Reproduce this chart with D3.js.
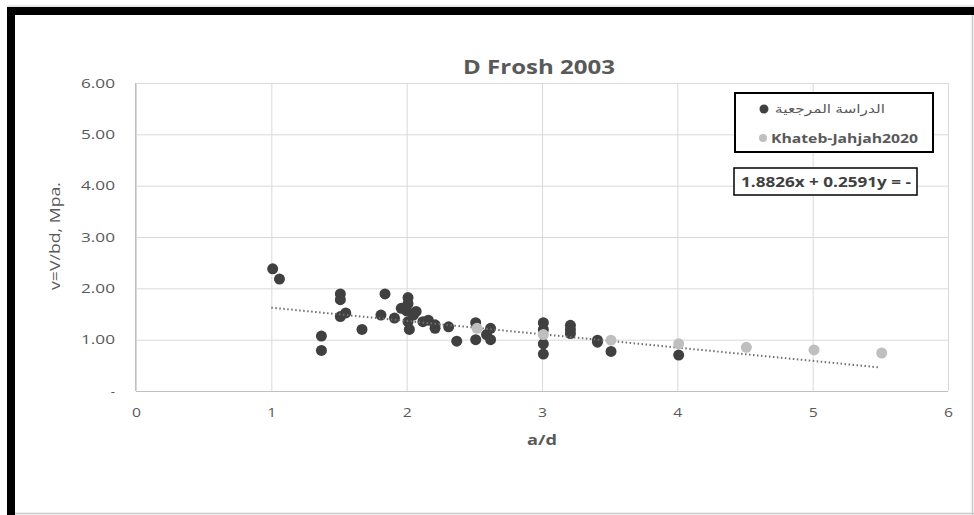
<!DOCTYPE html>
<html>
<head>
<meta charset="utf-8">
<script src="https://cdn.jsdelivr.net/npm/d3@7/dist/d3.min.js"></script>
<style>
  html, body { margin: 0; padding: 0; background: #fff; }
  svg { display: block; }
  text { font-family: "Open Sans", "Liberation Sans", sans-serif; }
</style>
</head>
<body>
<svg id="chart" width="974" height="515"></svg>
<script>
// Reference study (dark markers): a/d vs shear stress v
const refX = [1.01, 1.06, 1.37, 1.37, 1.51, 1.51, 1.51, 1.55, 1.67, 1.84, 1.81, 1.91,
              1.96, 2.01, 2.01, 2.00, 2.05, 2.01, 2.02, 2.07, 2.12, 2.16, 2.21, 2.21,
              2.31, 2.37, 2.51, 2.51, 2.59, 2.62, 2.62, 3.01, 3.01, 3.01, 3.01, 3.21,
              3.21, 3.21, 3.41, 3.41, 3.51, 4.01];
const refY = [2.38, 2.18, 1.07, 0.79, 1.89, 1.78, 1.45, 1.52, 1.20, 1.89, 1.48, 1.42,
              1.61, 1.82, 1.70, 1.56, 1.48, 1.35, 1.20, 1.55, 1.35, 1.38, 1.29, 1.22,
              1.25, 0.97, 1.33, 1.00, 1.10, 1.22, 1.00, 1.33, 1.20, 0.92, 0.72, 1.28,
              1.20, 1.12, 0.99, 0.95, 0.77, 0.70];

// Khateb-Jahjah 2020 (light markers)
const khX = [2.52, 3.01, 3.51, 4.01, 4.51, 5.01, 5.51];
const khY = [1.22, 1.10, 0.99, 0.92, 0.85, 0.80, 0.74];

// Linear trendline: y = -0.2591x + 1.8826, over a/d 1 .. 5.5
const trendSlope = -0.2591;
const trendIntercept = 1.8826;
const trendRange = [1, 5.5];

const xTicks = [0, 1, 2, 3, 4, 5, 6];
const yTicks = [0, 1, 2, 3, 4, 5, 6];

const titleText = "D Frosh 2003";
const xLabel = "a/d";
const yLabel = "v=V/bd, Mpa.";
const legendNames = ["الدراسة المرجعية", "Khateb-Jahjah2020"];
const equationText = "1.8826x + 0.2591y = -";

const svg = d3.select("#chart");
const W = 974, H = 515;

// outer frame: thick black top/left, thin grey right/bottom
svg.append("rect").attr("x", 0).attr("y", 0).attr("width", W).attr("height", H).attr("fill", "#fff");
svg.append("line").attr("x1", 7).attr("x2", W).attr("y1", 6).attr("y2", 6)
  .attr("stroke", "#d0d0d0").attr("stroke-width", 1);
svg.append("line").attr("x1", W - 1.5).attr("x2", W - 1.5).attr("y1", 7).attr("y2", H)
  .attr("stroke", "#c8c8c8").attr("stroke-width", 1.5);
svg.append("line").attr("x1", 7).attr("x2", W).attr("y1", H - 1.5).attr("y2", H - 1.5)
  .attr("stroke", "#c8c8c8").attr("stroke-width", 1.5);
svg.append("rect").attr("x", 7).attr("y", 7).attr("width", W - 7).attr("height", 8).attr("fill", "#000");
svg.append("rect").attr("x", 7).attr("y", 7).attr("width", 8).attr("height", H - 7).attr("fill", "#000");

const plot = { left: 136, right: 948, top: 83, bottom: 391 };

const x = d3.scaleLinear().domain([0, 6]).range([plot.left, plot.right]);
const y = d3.scaleLinear().domain([0, 6]).range([plot.bottom, plot.top]);

const gridColor = "#d9d9d9";
const labelColor = "#595959";

// gridlines
svg.append("g")
  .attr("transform", `translate(0,${plot.bottom})`)
  .call(d3.axisBottom(x).tickValues(xTicks).tickSize(-(plot.bottom - plot.top)).tickFormat(""))
  .call(g => g.select(".domain").remove())
  .call(g => g.selectAll("line").attr("stroke", gridColor));
svg.append("g")
  .attr("transform", `translate(${plot.left},0)`)
  .call(d3.axisLeft(y).tickValues(yTicks).tickSize(-(plot.right - plot.left)).tickFormat(""))
  .call(g => g.select(".domain").remove())
  .call(g => g.selectAll("line").attr("stroke", gridColor));

// axis lines
svg.append("line").attr("x1", plot.left).attr("x2", plot.right)
  .attr("y1", plot.bottom + 0.5).attr("y2", plot.bottom + 0.5).attr("stroke", "#bfbfbf");
svg.append("line").attr("x1", plot.left - 0.5).attr("x2", plot.left - 0.5)
  .attr("y1", plot.top).attr("y2", plot.bottom).attr("stroke", "#bfbfbf");

// tick labels (wide, Excel-like)
const xAxis = svg.append("g")
  .attr("transform", `translate(0,${plot.bottom})`)
  .call(d3.axisBottom(x).tickValues(xTicks).tickSize(0).tickPadding(16).tickFormat(d3.format("d")));
xAxis.select(".domain").remove();
xAxis.selectAll("text").attr("fill", labelColor).attr("font-size", 13.5)
  .attr("textLength", 9).attr("lengthAdjust", "spacingAndGlyphs")
  .style("font-family", '"Open Sans", sans-serif');

const yAxis = svg.append("g")
  .attr("transform", `translate(${plot.left},0)`)
  .call(d3.axisLeft(y).tickValues(yTicks).tickSize(0).tickPadding(21)
    .tickFormat(d => d === 0 ? "-" : d3.format(".2f")(d)));
yAxis.select(".domain").remove();
yAxis.selectAll("text").attr("fill", labelColor).attr("font-size", 13)
  .style("font-family", '"Open Sans", sans-serif')
  .filter(d => d !== 0)
  .attr("textLength", 34).attr("lengthAdjust", "spacingAndGlyphs");

// title
svg.append("text").attr("x", 539).attr("y", 74).attr("text-anchor", "middle")
  .attr("font-size", 19).attr("font-weight", "bold").attr("fill", labelColor)
  .attr("textLength", 152).attr("lengthAdjust", "spacingAndGlyphs").text(titleText);

// axis titles
svg.append("text").attr("x", 542).attr("y", 445).attr("text-anchor", "middle")
  .attr("font-size", 14).attr("font-weight", "bold").attr("fill", labelColor)
  .attr("textLength", 30).attr("lengthAdjust", "spacingAndGlyphs").text(xLabel);
svg.append("text").attr("transform", "translate(60,236) rotate(-90)").attr("text-anchor", "middle")
  .attr("font-size", 14).attr("fill", labelColor)
  .attr("textLength", 108).attr("lengthAdjust", "spacingAndGlyphs").text(yLabel);

// data
const refData = refX.map((v, i) => ({ x: v, y: refY[i] }));
const khData = khX.map((v, i) => ({ x: v, y: khY[i] }));

const darkColor = "#404040";
const lightColor = "#bfbfbf";
const r = 5.5;

svg.append("g").selectAll("circle").data(refData).join("circle")
  .attr("cx", d => x(d.x)).attr("cy", d => y(d.y)).attr("r", r).attr("fill", darkColor);

// trendline
const trend = trendRange.map(v => ({ x: v, y: trendSlope * v + trendIntercept }));
svg.append("path")
  .attr("d", d3.line().x(d => x(d.x)).y(d => y(d.y))(trend))
  .attr("fill", "none").attr("stroke", "#6f6f6f").attr("stroke-width", 2)
  .attr("stroke-dasharray", "1.5,2.5");

svg.append("g").selectAll("circle").data(khData).join("circle")
  .attr("cx", d => x(d.x)).attr("cy", d => y(d.y)).attr("r", r).attr("fill", lightColor);

// legend
const legend = svg.append("g");
legend.append("rect").attr("x", 735).attr("y", 93).attr("width", 198).attr("height", 59)
  .attr("fill", "#fff").attr("stroke", "#000").attr("stroke-width", 2);
legend.append("circle").attr("cx", 764).attr("cy", 109).attr("r", 4.5).attr("fill", darkColor);
legend.append("text").attr("x", 775).attr("y", 113).attr("font-size", 12).attr("fill", labelColor)
  .attr("textLength", 110).attr("lengthAdjust", "spacingAndGlyphs")
  .style("font-family", '"Noto Sans", "DejaVu Sans", sans-serif').text(legendNames[0]);
legend.append("circle").attr("cx", 763).attr("cy", 138).attr("r", 4).attr("fill", lightColor);
legend.append("text").attr("x", 771).attr("y", 142.5).attr("font-size", 12.5).attr("font-weight", "bold")
  .attr("textLength", 147).attr("lengthAdjust", "spacingAndGlyphs")
  .attr("fill", labelColor).text(legendNames[1]);

// trendline equation box
svg.append("rect").attr("x", 734).attr("y", 168).attr("width", 183).attr("height", 27)
  .attr("fill", "#fff").attr("stroke", "#000").attr("stroke-width", 1.5);
svg.append("text").attr("x", 826).attr("y", 187).attr("text-anchor", "middle")
  .attr("font-size", 14).attr("font-weight", "bold").attr("fill", "#404040")
  .attr("textLength", 170).attr("lengthAdjust", "spacingAndGlyphs").text(equationText);
</script>
</body>
</html>
